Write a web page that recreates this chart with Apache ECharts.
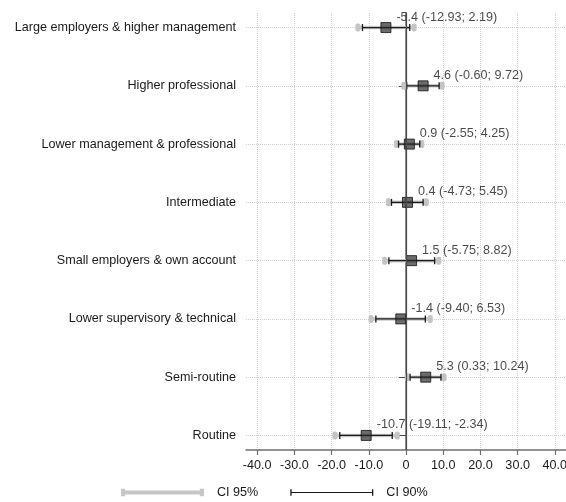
<!DOCTYPE html>
<html><head><meta charset="utf-8">
<script src="https://cdn.jsdelivr.net/npm/echarts@6/dist/echarts.min.js"></script>
<style>html,body{margin:0;padding:0;background:#fff}#c{width:566px;height:502px}</style>
</head><body><div id="c"></div>
<script>
var categories = ['Large employers & higher management','Higher professional','Lower management & professional','Intermediate','Small employers & own account','Lower supervisory & technical','Semi-routine','Routine'];
var estimates = [-5.4, 4.6, 0.9, 0.4, 1.5, -1.4, 5.3, -10.7];
var lo95 = [-12.93, -0.60, -2.55, -4.73, -5.75, -9.40, 0.33, -19.11];
var hi95 = [2.19, 9.72, 4.25, 5.45, 8.82, 6.53, 10.24, -2.34];
var lo90 = [-11.7, 0.2, -2.0, -3.9, -4.6, -8.1, 1.1, -17.8];
var hi90 = [1.0, 8.9, 3.7, 4.6, 7.7, 5.2, 9.4, -3.7];
var xTicks = [-40, -30, -20, -10, 0, 10, 20, 30, 40];
var rows = [1, 2, 3, 4, 5, 6, 7, 8];

var FONT = 'Liberation Sans, Arial, sans-serif';
var FS = 12.6;
var TXT = '#1a1a1a';
var chart = echarts.init(document.getElementById('c'));

function ciData(lo, hi) {
  return rows.map(function (r, i) { return [lo[i], hi[i], r]; });
}
function makeRender(kind) {
  return function (params, api) {
    var y = api.value(2);
    var a = api.coord([api.value(0), y]);
    var b = api.coord([api.value(1), y]);
    if (kind === 95) {
      return { type: 'group', children: [
        { type: 'line', shape: { x1: a[0], y1: a[1], x2: b[0], y2: b[1] }, style: { stroke: '#c9c9c9', lineWidth: 3.5 } },
        { type: 'rect', shape: { x: a[0] - 2.5, y: a[1] - 4, width: 5, height: 8, r: 2 }, style: { fill: '#c4c4c4' } },
        { type: 'rect', shape: { x: b[0] - 2.5, y: b[1] - 4, width: 5, height: 8, r: 2 }, style: { fill: '#c4c4c4' } }
      ]};
    }
    return { type: 'group', children: [
      { type: 'line', shape: { x1: a[0], y1: a[1], x2: b[0], y2: b[1] }, style: { stroke: '#1a1a1a', lineWidth: 1.3 } },
      { type: 'line', shape: { x1: a[0], y1: a[1] - 3.5, x2: a[0], y2: a[1] + 3.5 }, style: { stroke: '#1a1a1a', lineWidth: 1.3 } },
      { type: 'line', shape: { x1: b[0], y1: b[1] - 3.5, x2: b[0], y2: b[1] + 3.5 }, style: { stroke: '#1a1a1a', lineWidth: 1.3 } }
    ]};
  };
}

var option = {
  animation: false,
  textStyle: { fontFamily: FONT },
  grid: { left: 246, right: 0, top: 13, bottom: 52, containLabel: false, outerBoundsMode: 'none' },
  xAxis: {
    type: 'value', min: -43, max: 43,
    axisLine: { show: true, lineStyle: { color: '#6e6e6e', width: 1.5 } },
    axisTick: { show: true, length: 5, customValues: xTicks, lineStyle: { color: '#6e6e6e', width: 1.2 } },
    axisLabel: { customValues: xTicks, color: TXT, fontSize: FS, fontFamily: FONT, margin: 9, hideOverlap: false,
      formatter: function (v) { return v === 0 ? '0' : v.toFixed(1); } },
    splitLine: { show: true, lineStyle: { color: '#cfcfcf', type: 'dotted', width: 1 } }
  },
  yAxis: {
    type: 'value', min: 0.75, max: 8.25, inverse: true,
    axisLine: { show: true, lineStyle: { color: '#6e6e6e', width: 1.5 } },
    axisTick: { show: true, length: 7, customValues: rows, lineStyle: { color: '#444', width: 1 } },
    axisLabel: { customValues: rows, color: TXT, fontSize: FS, fontFamily: FONT, margin: 10,
      formatter: function (v) { return categories[Math.round(v) - 1] || ''; } },
    splitLine: { show: true, lineStyle: { color: '#cfcfcf', type: 'dotted', width: 1 } }
  },
  legend: {
    top: 481, left: 116, itemGap: 32, itemWidth: 83, itemHeight: 9,
    textStyle: { color: TXT, fontSize: FS, fontFamily: FONT, padding: [0, 0, 0, 8] },
    data: [
      { name: 'CI 95%', icon: 'path://M0,2.5h100v5H0z M0,0.5h5v9H0z M95,0.5h5v9h-5z', itemStyle: { color: '#c6c6c6' } },
      { name: 'CI 90%', icon: 'path://M0,4.3h100v1.4H0z M0,1h1.6v8H0z M98.4,1h1.6v8h-1.6z', itemStyle: { color: '#1a1a1a' } }
    ]
  },
  series: [
    { name: 'CI 95%', type: 'custom', renderItem: makeRender(95), data: ciData(lo95, hi95), encode: { x: [0, 1], y: 2 }, z: 2,
      markLine: { silent: true, symbol: 'none', label: { show: false },
        lineStyle: { color: '#4a4a4a', type: 'solid', width: 1.2 }, data: [{ xAxis: 0 }] } },
    { name: 'CI 90%', type: 'custom', renderItem: makeRender(90), data: ciData(lo90, hi90), encode: { x: [0, 1], y: 2 }, z: 3 },
    { name: 'Estimate', type: 'scatter', symbol: 'rect', symbolSize: 10, z: 4,
      data: rows.map(function (r, i) { return [estimates[i], r, i]; }),
      itemStyle: { color: 'rgba(40,40,40,0.85)', borderColor: '#111', borderWidth: 1 },
      label: { show: true, position: [16, -5], align: 'left', verticalAlign: 'middle', color: TXT, fontSize: FS, fontFamily: FONT,
        formatter: function (p) { var i = p.data[2];
          return estimates[i].toFixed(1) + ' (' + lo95[i].toFixed(2) + '; ' + hi95[i].toFixed(2) + ')'; } } }
  ]
};
chart.setOption(option);
</script></body></html>
